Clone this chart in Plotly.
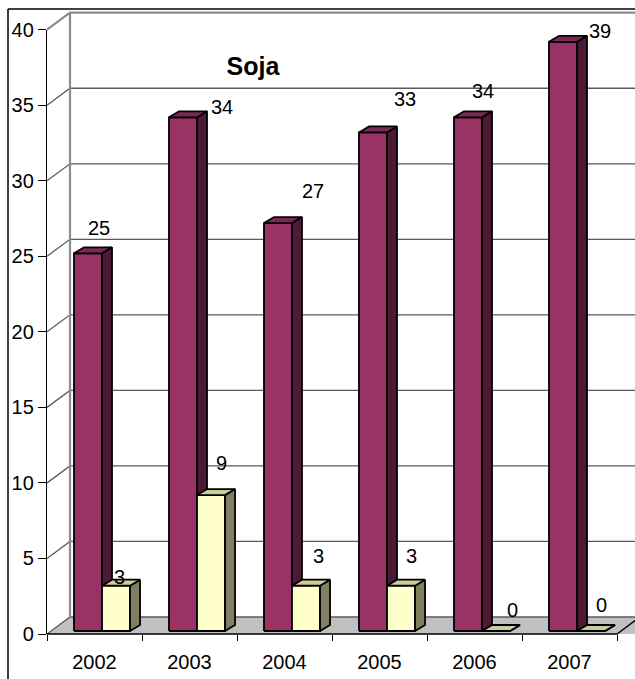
import plotly.graph_objects as go

# ---------------- data ----------------
years = ["2002", "2003", "2004", "2005", "2006", "2007"]
serie_a = [25, 34, 27, 33, 34, 39]   # maroon bars
serie_b = [3, 9, 3, 3, 0, 0]         # light yellow bars
y_ticks = [0, 5, 10, 15, 20, 25, 30, 35, 40]

# label offsets (x in category units, y in value units)
lab_a_dx = [0.547, 0.842, 0.800, 0.768, 0.589, 0.821]
lab_a_dy = [1.87, 0.88, 2.32, 2.41, 1.94, 0.91]
lab_b_dx = [0.760, 0.842, 0.853, 0.842, 0.895, 0.842]
lab_b_dy = [0.75, 2.32, 2.16, 2.16, 1.59, 1.92]

# ---------------- geometry / style ----------------
W, H = 635, 679
PX_X = 95.0          # px per category
PX_Y = 604.3 / 40    # px per unit
L, B = 47, 40
Y0PX = 634           # pixel row of value 0 on the front axis
plot_h = H - B
x_max = (W - L) / PX_X
y2_min = (Y0PX - plot_h) / PX_Y
y2_max = Y0PX / PX_Y

WDX, WDY = 23 / PX_X, 17 / PX_Y     # wall depth
BDX, BDY = 10 / PX_X, 6 / PX_Y      # bar depth
BASE = 3 / PX_Y                     # bar base lift
BX0 = 0.284                         # first bar left offset inside category
BW = 0.295                          # bar width

FONT = "Liberation Sans, Arial, sans-serif"
FS = 20
colA = dict(front="#993366", side="#4d1a36", top="#7a2a52")
colB = dict(front="#ffffcc", side="#808060", top="#cccc99")

n = len(years)
fig = go.Figure()

# invisible trace so that the front value axis (x / y) is drawn
fig.add_trace(go.Scatter(x=[0.5], y=[0], xaxis="x", yaxis="y", mode="markers",
                         marker=dict(opacity=0), hoverinfo="skip", showlegend=False))

def poly_trace(xs, ys, fill, lw=1.8, lc="black"):
    fig.add_trace(go.Scatter(x=xs, y=ys, yaxis="y2", mode="lines", fill="toself",
                             fillcolor=fill, line=dict(color=lc, width=lw),
                             hoverinfo="skip", showlegend=False))

def line_trace(xs, ys, color, width):
    fig.add_trace(go.Scatter(x=xs, y=ys, yaxis="y2", mode="lines",
                             line=dict(color=color, width=width),
                             hoverinfo="skip", showlegend=False))

# floor
poly_trace([0, WDX, n + WDX + 1, n + 1, 0], [0, WDY, WDY, 0, 0], "#c0c0c0", lw=0, lc="#c0c0c0")

# back wall gridlines + side wall diagonals
gx, gy = [], []
for v in y_ticks[:-1]:
    gx += [0, WDX, x_max + 0.2, None]
    gy += [v, v + WDY, v + WDY, None]
line_trace(gx, gy, "#5a5a5a", 1.3)
# wall edges (top + side wall back edge)
top = y_ticks[-1]
line_trace([0, WDX, x_max + 0.2, None, WDX, WDX],
           [top, top + WDY, top + WDY, None, WDY, top + WDY], "#8c8c8c", 2.2)
# front floor edge (x axis)
line_trace([0, n, n + WDX], [0, 0, WDY], "black", 1.4)

# bars
def add_series(vals, k):
    fx, fy, sx, sy, tx, ty = [], [], [], [], [], []
    for i, v in enumerate(vals):
        x0 = i + BX0 + k * BW
        x1 = x0 + BW
        b = BASE
        fx += [x0, x1, x1, x0, x0, None]
        fy += [b, b, b + v, b + v, b, None]
        sx += [x1, x1 + BDX, x1 + BDX, x1, x1, None]
        sy += [b, b + BDY, b + v + BDY, b + v, b, None]
        tx += [x0, x1, x1 + BDX, x0 + BDX, x0, None]
        ty += [b + v, b + v, b + v + BDY, b + v + BDY, b + v, None]
    return (fx, fy), (sx, sy), (tx, ty)

for k, (vals, col) in enumerate([(serie_a, colA), (serie_b, colB)]):
    (fx, fy), (sx, sy), (tx, ty) = add_series(vals, k)
    poly_trace(fx, fy, col["front"])
    poly_trace(sx, sy, col["side"])
    poly_trace(tx, ty, col["top"])

# data labels
ann = []
for i in range(n):
    ann.append(dict(x=i + lab_a_dx[i], y=serie_a[i] + lab_a_dy[i], xref="x", yref="y2",
                    text=str(serie_a[i]), showarrow=False, xanchor="center", yanchor="middle",
                    font=dict(family=FONT, size=FS, color="black")))
    ann.append(dict(x=i + lab_b_dx[i], y=serie_b[i] + lab_b_dy[i], xref="x", yref="y2",
                    text=str(serie_b[i]), showarrow=False, xanchor="center", yanchor="middle",
                    font=dict(family=FONT, size=FS, color="black")))

# outer frame (left and top edges)
fx0 = (8 - L) / (W - L)
fy_top = (plot_h - 9) / plot_h
shapes = [
    dict(type="line", xref="paper", yref="paper", x0=fx0, x1=fx0,
         y0=-B / plot_h, y1=fy_top, line=dict(color="black", width=1.5)),
    dict(type="line", xref="paper", yref="paper", x0=fx0, x1=1.05,
         y0=fy_top, y1=fy_top, line=dict(color="black", width=1.5)),
]

fig.update_layout(
    width=W, height=H,
    margin=dict(l=L, r=0, t=0, b=B, autoexpand=False),
    paper_bgcolor="white", plot_bgcolor="rgba(0,0,0,0)",
    showlegend=False, hovermode=False,
    font=dict(family=FONT, size=FS, color="black"),
    title=dict(text="<b>Soja</b>", x=253 / W, y=1 - 66 / H, xref="container", yref="container",
               xanchor="center", yanchor="middle", font=dict(family=FONT, size=25, color="black")),
    xaxis=dict(range=[0, x_max], anchor="y", showgrid=False, zeroline=False, showline=False,
               automargin=False,
               tickmode="array", tickvals=[i + 0.5 for i in range(n)], ticktext=years,
               ticks="", ticklabelstandoff=14,
               tickfont=dict(family=FONT, size=FS, color="black"),
               minor=dict(tickmode="array", tickvals=list(range(n + 1)), ticks="outside",
                          ticklen=6, tickcolor="black", tickwidth=1, showgrid=False)),
    yaxis=dict(domain=[(plot_h - Y0PX) / plot_h, (plot_h - (Y0PX - 40 * PX_Y)) / plot_h],
               range=[0, 40], anchor="x", tickmode="array", tickvals=y_ticks, automargin=False,
               showgrid=False, zeroline=False, showline=True, linecolor="black", linewidth=1.4,
               ticks="outside", ticklen=8, tickcolor="black", tickwidth=1,
               tickfont=dict(family=FONT, size=FS, color="black")),
    yaxis2=dict(domain=[0, 1], range=[y2_min, y2_max], anchor="x", automargin=False,
                visible=False, showgrid=False, zeroline=False),
    annotations=ann, shapes=shapes,
)

fig.write_html("out.html")
